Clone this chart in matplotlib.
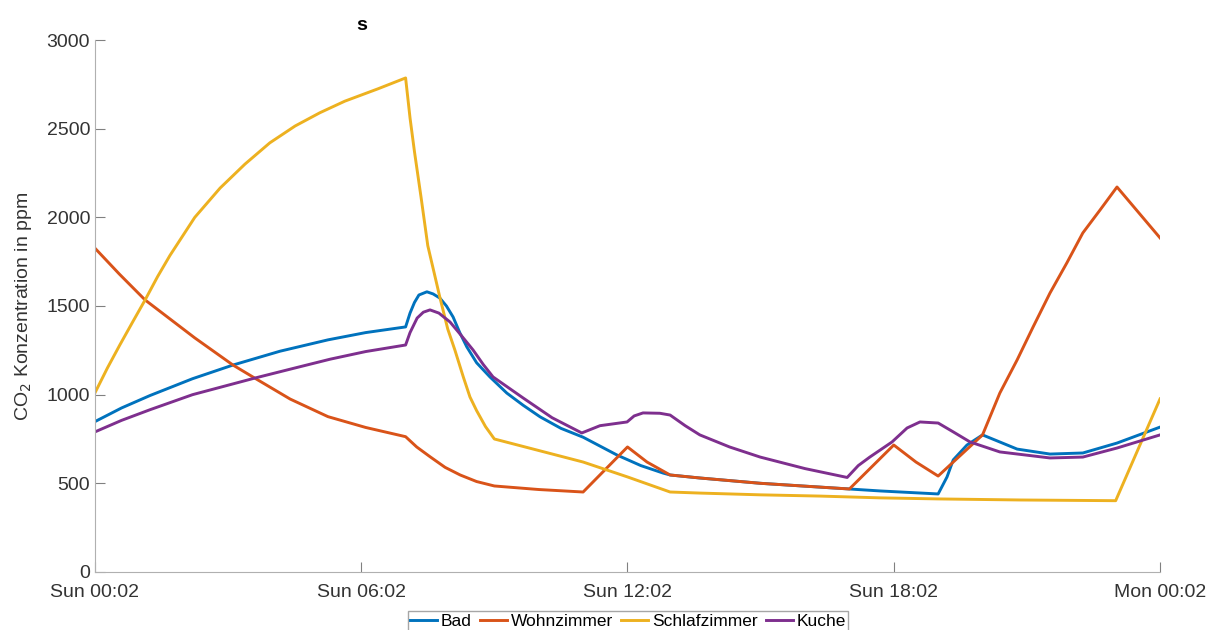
import matplotlib.pyplot as plt

plt.rcParams['font.family'] = ['Liberation Sans', 'DejaVu Sans']

# hours since Sun 00:02
tick_hours = [0, 6, 12, 18, 24]
tick_labels = ['Sun 00:02', 'Sun 06:02', 'Sun 12:02', 'Sun 18:02', 'Mon 00:02']

bad_t = [0, 0.6, 1.24, 2.2, 3.11, 4.17, 5.25, 6.1, 7.0, 7.1, 7.2, 7.3, 7.48, 7.62,
         7.77, 7.92, 8.07, 8.22, 8.38, 8.6, 8.9, 9.28, 9.65, 10.03, 10.5, 11.0, 11.76,
         12.3, 12.8, 12.96, 13.63, 15.0, 17.0, 17.69, 19.0, 19.2, 19.34, 19.65, 20.0,
         20.39, 20.78, 21.52, 22.26, 23.03, 24.0]
bad_v = [848, 925, 995, 1090, 1167, 1245, 1309, 1350, 1382, 1460, 1520, 1562, 1580, 1568,
         1545, 1500, 1438, 1350, 1269, 1180, 1100, 1009, 940, 875, 810, 760, 660,
         600, 558, 547, 530, 500, 468, 457, 440, 536, 632, 716, 773,
         733, 693, 665, 671, 727, 817]

wohn_t = [0, 0.55, 1.13, 2.25, 3.11, 3.61, 4.4, 5.25, 6.1, 7.0, 7.25, 7.55, 7.89, 8.23,
          8.6, 9.0, 10.0, 11.0, 12.0, 12.44, 12.96, 13.63, 15.0, 17.0, 18.0, 18.5, 19.0,
          20.0, 20.39, 20.78, 21.14, 21.52, 21.9, 22.26, 22.65, 23.03, 24.0]
wohn_v = [1826, 1680, 1534, 1320, 1167, 1092, 975, 876, 815, 763, 705, 650, 590, 547,
          510, 485, 465, 451, 705, 620, 547, 530, 500, 468, 716, 620, 541,
          773, 1009, 1196, 1382, 1573, 1743, 1912, 2042, 2171, 1884]

schlaf_t = [0, 0.28, 0.56, 0.85, 1.13, 1.41, 1.69, 2.25, 2.82, 3.38, 3.94, 4.51, 5.07,
            5.63, 6.38, 7.0, 7.1, 7.2, 7.35, 7.5, 7.65, 7.77, 7.95, 8.11, 8.3, 8.45,
            8.6, 8.8, 9.0, 11.0, 12.0, 12.96, 13.63, 15.0, 16.34, 17.69, 19.0, 20.85,
            23.0, 24.0]
schlaf_v = [1010, 1150, 1280, 1410, 1534, 1665, 1785, 2000, 2165, 2300, 2420, 2515, 2590,
            2655, 2725, 2786, 2560, 2370, 2110, 1840, 1680, 1551, 1370, 1252, 1100, 987,
            910, 820, 750, 620, 536, 451, 445, 435, 428, 418, 412, 406,
            402, 976]

kuche_t = [0, 0.6, 1.24, 2.2, 3.61, 4.5, 5.3, 6.1, 7.0, 7.1, 7.26, 7.4, 7.55, 7.75, 8.0,
           8.25, 8.52, 8.75, 8.97, 9.65, 10.3, 10.97, 11.38, 11.99, 12.15, 12.35, 12.73,
           12.96, 13.3, 13.63, 14.3, 14.99, 16.0, 16.95, 17.2, 17.46, 17.96, 18.3, 18.59,
           19.0, 19.34, 19.72, 20.39, 21.52, 22.26, 23.03, 24.0]
kuche_v = [790, 855, 915, 1000, 1094, 1150, 1200, 1243, 1280, 1350, 1432, 1465, 1478, 1460,
           1410, 1335, 1252, 1170, 1100, 981, 870, 784, 825, 846, 880, 897, 895,
           885, 825, 773, 705, 648, 583, 533, 600, 648, 733, 812, 846,
           840, 790, 733, 677, 643, 648, 699, 773]

fig = plt.figure(figsize=(12.08, 6.30), dpi=100)
ax = fig.add_axes([0.0786, 0.0921, 0.8817, 0.8444])

ax.plot(bad_t, bad_v, color='#0072BD', lw=2.1, label='Bad')
ax.plot(wohn_t, wohn_v, color='#D95319', lw=2.1, label='Wohnzimmer')
ax.plot(schlaf_t, schlaf_v, color='#EDB120', lw=2.1, label='Schlafzimmer')
ax.plot(kuche_t, kuche_v, color='#7E2F8E', lw=2.1, label='Kuche')

ax.set_xlim(0, 24)
ax.set_ylim(0, 3000)
ax.set_xticks(tick_hours)
ax.set_xticklabels(tick_labels)
ax.set_yticks([0, 500, 1000, 1500, 2000, 2500, 3000])

for s in ['top', 'right']:
    ax.spines[s].set_visible(False)
for s in ['left', 'bottom']:
    ax.spines[s].set_color('#b0b0b0')
ax.tick_params(direction='in', length=7, color='#808080', labelsize=14,
               labelcolor='#333333')
ax.tick_params(axis='x', pad=9)
ax.set_ylabel('CO$_2$ Konzentration in ppm', fontsize=14, color='#333333', labelpad=9)

fig.text(362 / 1208, 1 - 25 / 630, 's', fontsize=14, fontweight='bold',
         ha='center', va='center')

leg = fig.legend(loc='center', bbox_to_anchor=(628 / 1208, 1 - 621 / 630), ncol=4,
                 fontsize=12.5, frameon=True, fancybox=False, borderpad=0.15,
                 handlelength=1.55, handletextpad=0.2, columnspacing=0.5,
                 borderaxespad=0)
leg.get_frame().set_edgecolor('#909090')
leg.get_frame().set_linewidth(1)

fig.savefig('out.png', dpi=100)
